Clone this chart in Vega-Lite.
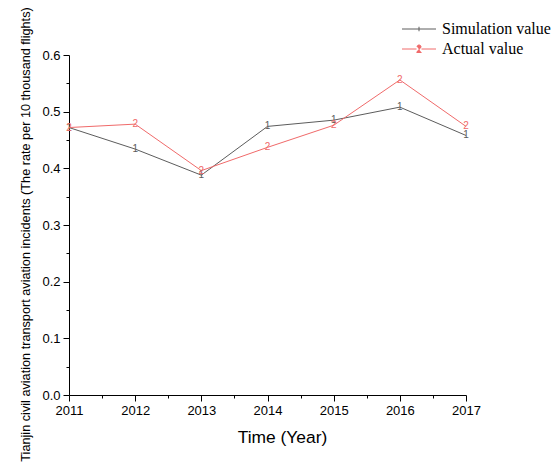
{
  "$schema": "https://vega.github.io/schema/vega-lite/v6.json",
  "width": 397,
  "height": 340,
  "autosize": {"type": "none"},
  "padding": {"left": 69, "top": 55, "right": 85, "bottom": 73},
  "background": "white",
  "config": {
    "view": {"stroke": null},
    "axis": {
      "domainColor": "#000000",
      "domainWidth": 1,
      "tickColor": "#000000",
      "tickWidth": 1,
      "labelColor": "#000000",
      "titleColor": "#000000",
      "labelFont": "Liberation Sans",
      "titleFont": "Liberation Sans",
      "titleFontWeight": "normal",
      "grid": false
    }
  },
  "data": {
    "values": [
      {"year": 2011, "series": "Simulation value", "value": 0.472},
      {"year": 2012, "series": "Simulation value", "value": 0.434},
      {"year": 2013, "series": "Simulation value", "value": 0.388},
      {"year": 2014, "series": "Simulation value", "value": 0.474},
      {"year": 2015, "series": "Simulation value", "value": 0.485},
      {"year": 2016, "series": "Simulation value", "value": 0.508},
      {"year": 2017, "series": "Simulation value", "value": 0.458},
      {"year": 2011, "series": "Actual value", "value": 0.472},
      {"year": 2012, "series": "Actual value", "value": 0.478},
      {"year": 2013, "series": "Actual value", "value": 0.396},
      {"year": 2014, "series": "Actual value", "value": 0.437},
      {"year": 2015, "series": "Actual value", "value": 0.476},
      {"year": 2016, "series": "Actual value", "value": 0.556},
      {"year": 2017, "series": "Actual value", "value": 0.474}
    ]
  },
  "encoding": {
    "x": {
      "field": "year",
      "type": "quantitative",
      "scale": {"domain": [2011, 2017], "nice": false, "zero": false},
      "axis": {
        "title": "Time (Year)",
        "titleFontSize": 17.4,
        "titlePadding": 11,
        "titleX": 213,
        "labelFontSize": 13,
        "labelPadding": 3,
        "values": [2011, 2011.5, 2012, 2012.5, 2013, 2013.5, 2014, 2014.5, 2015, 2015.5, 2016, 2016.5, 2017],
        "labelExpr": "datum.value % 1 === 0 ? format(datum.value, 'd') : ''",
        "tickSize": {"condition": {"test": "datum.value % 1 === 0", "value": 6}, "value": 3},
        "labelFlush": false,
        "labelOverlap": false
      }
    },
    "y": {
      "field": "value",
      "type": "quantitative",
      "scale": {"domain": [0, 0.6], "nice": false},
      "axis": {
        "title": "Tianjin civil aviation transport aviation incidents (The rate per 10 thousand flights)",
        "titleFontSize": 12.7,
        "titlePadding": 9,
        "titleY": 179,
        "labelFontSize": 13,
        "labelPadding": 3,
        "values": [0, 0.05, 0.1, 0.15, 0.2, 0.25, 0.3, 0.35, 0.4, 0.45, 0.5, 0.55, 0.6],
        "labelExpr": "abs(datum.value * 10 - round(datum.value * 10)) < 0.001 ? format(datum.value, '.1f') : ''",
        "tickSize": {"condition": {"test": "abs(datum.value * 10 - round(datum.value * 10)) < 0.001", "value": 6}, "value": 3},
        "labelOverlap": false
      }
    },
    "color": {
      "field": "series",
      "type": "nominal",
      "scale": {"domain": ["Simulation value", "Actual value"], "range": ["#5c5c5c", "#f06a6a"]},
      "legend": {
        "title": null,
        "orient": "none",
        "legendX": 342,
        "legendY": -34,
        "labelFont": "Liberation Serif",
        "labelFontSize": 16,
        "labelColor": "#000000",
        "labelOffset": 15,
        "labelLimit": 200,
        "rowPadding": 4,
        "symbolSize": 100,
        "symbolStrokeWidth": 1,
        "symbolType": "M-3.4,0H3.4",
        "encode": {
          "symbols": {
            "update": {
              "fill": {"value": "transparent"},
              "shape": {"signal": "datum.value === 'Actual value' ? 'M-3.4,0H-0.5M0.5,0H3.4M-0.4,-0.45C-0.35,-0.95 0.45,-0.9 0.4,-0.4C0.35,-0.05 -0.4,0.3 -0.45,0.7H0.5' : 'M-3.4,0H3.4M0,-0.45V0.45'"}
            }
          }
        }
      }
    }
  },
  "layer": [
    {
      "mark": {"type": "line", "strokeWidth": 1}
    },
    {
      "mark": {"type": "text", "font": "Liberation Sans", "fontSize": 10, "baseline": "middle", "align": "center"},
      "encoding": {
        "text": {"condition": {"test": "datum.series === 'Actual value'", "value": "2"}, "value": "1"}
      }
    }
  ]
}
